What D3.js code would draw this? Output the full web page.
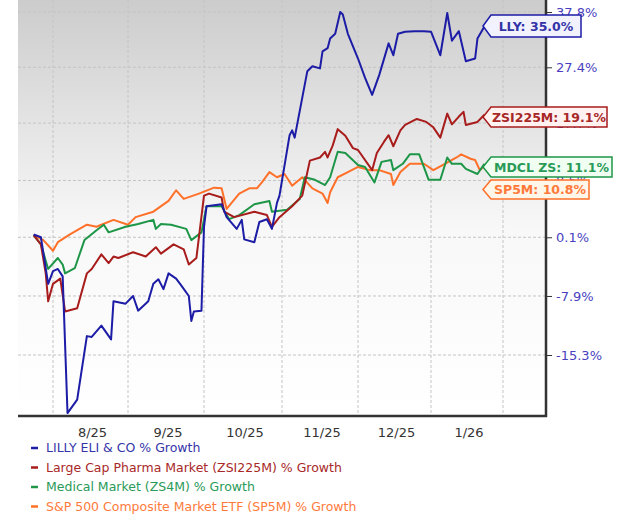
<!DOCTYPE html>
<html><head><meta charset="utf-8">
<script src="https://cdn.jsdelivr.net/npm/d3@7/dist/d3.min.js"></script>
<style>body{margin:0;background:#fff;font-family:Tahoma,"DejaVu Sans",sans-serif;}</style>
</head><body><svg id="c" width="620" height="526"></svg>
<script>
const yTicks = [37.8, 27.4, 17.7, 8.5, 0.1, -7.9, -15.3];
const monthTicks = ["2025-08-01","2025-09-01","2025-10-01","2025-11-01","2025-12-01","2026-01-01","2026-02-01"];
const monthLabels = ["8/25","9/25","10/25","11/25","12/25","1/26"];
const seriesNames = ["LILLY ELI & CO % Growth","Large Cap Pharma Market (ZSI225M) % Growth","Medical Market (ZS4M) % Growth","S&P 500 Composite Market ETF (SP5M) % Growth"];
const endLabels = ["LLY: 35.0%","ZSI225M: 19.1%","MDCL ZS: 11.1%","SP5M: 10.8%"];

const lly = [["2025-07-24",0.5],["2025-07-27",0.1],["2025-07-30",-6.3],["2025-08-01",-4.6],["2025-08-03",-4.3],["2025-08-05",-5.3],["2025-08-07",-22.0],["2025-08-11",-20.5],["2025-08-15",-13.0],["2025-08-17",-13.1],["2025-08-21",-11.7],["2025-08-25",-13.4],["2025-08-26",-8.6],["2025-08-31",-8.9],["2025-09-03",-7.9],["2025-09-05",-9.8],["2025-09-09",-8.6],["2025-09-11",-6.3],["2025-09-13",-5.7],["2025-09-15",-7.0],["2025-09-17",-4.9],["2025-09-20",-5.6],["2025-09-22",-6.5],["2025-09-25",-7.9],["2025-09-26",-11.1],["2025-09-27",-9.9],["2025-09-30",-9.8],["2025-10-01",1.6],["2025-10-02",4.6],["2025-10-08",4.9],["2025-10-10",3.0],["2025-10-14",1.3],["2025-10-16",2.6],["2025-10-17",-0.2],["2025-10-21",-0.6],["2025-10-23",2.3],["2025-10-26",2.7],["2025-10-28",1.3],["2025-10-30",5.1],["2025-10-31",6.2],["2025-11-04",15.7],["2025-11-05",16.5],["2025-11-06",15.3],["2025-11-11",26.7],["2025-11-13",27.6],["2025-11-16",27.2],["2025-11-17",30.3],["2025-11-19",30.9],["2025-11-20",32.7],["2025-11-22",33.6],["2025-11-24",37.8],["2025-11-25",37.3],["2025-11-27",33.6],["2025-12-01",29.0],["2025-12-04",25.5],["2025-12-07",22.5],["2025-12-10",26.0],["2025-12-14",31.8],["2025-12-16",29.6],["2025-12-18",33.6],["2025-12-21",34.0],["2025-12-25",34.1],["2025-12-29",34.1],["2026-01-01",34.0],["2026-01-05",29.6],["2026-01-08",37.6],["2026-01-10",32.3],["2026-01-13",34.1],["2026-01-16",28.5],["2026-01-20",29.0],["2026-01-21",32.7],["2026-01-24",35.0]];
const zsi = [["2025-07-24",0.4],["2025-07-27",-0.9],["2025-07-29",-4.9],["2025-07-30",-8.6],["2025-08-01",-6.3],["2025-08-04",-5.6],["2025-08-06",-9.9],["2025-08-11",-9.5],["2025-08-15",-4.9],["2025-08-17",-4.3],["2025-08-21",-2.3],["2025-08-24",-3.5],["2025-08-26",-2.6],["2025-08-28",-2.8],["2025-09-03",-2.0],["2025-09-08",-2.6],["2025-09-12",-1.3],["2025-09-14",-2.2],["2025-09-19",-0.9],["2025-09-23",-1.6],["2025-09-25",-3.7],["2025-09-28",-2.8],["2025-10-01",6.2],["2025-10-03",6.5],["2025-10-08",5.9],["2025-10-09",3.8],["2025-10-13",3.0],["2025-10-21",3.8],["2025-10-26",3.3],["2025-10-28",1.6],["2025-10-31",3.0],["2025-11-05",4.6],["2025-11-09",6.2],["2025-11-12",11.6],["2025-11-16",12.1],["2025-11-18",13.0],["2025-11-19",12.1],["2025-11-21",14.0],["2025-11-23",16.7],["2025-11-26",15.6],["2025-11-29",13.6],["2025-12-01",13.3],["2025-12-07",10.1],["2025-12-09",12.8],["2025-12-12",14.6],["2025-12-14",15.7],["2025-12-16",13.9],["2025-12-19",16.5],["2025-12-21",17.4],["2025-12-26",18.4],["2025-12-30",17.9],["2026-01-02",17.0],["2026-01-05",15.3],["2026-01-08",19.3],["2026-01-10",17.5],["2026-01-13",18.8],["2026-01-15",19.6],["2026-01-16",17.4],["2026-01-21",17.9],["2026-01-24",19.1]];
const mdcl = [["2025-07-24",0.4],["2025-07-27",-0.9],["2025-07-30",-4.3],["2025-08-03",-2.8],["2025-08-05",-3.7],["2025-08-06",-4.9],["2025-08-10",-4.2],["2025-08-14",-0.3],["2025-08-19",1.1],["2025-08-22",1.9],["2025-08-24",0.8],["2025-08-31",1.6],["2025-09-05",2.0],["2025-09-11",2.6],["2025-09-12",1.3],["2025-09-14",2.0],["2025-09-18",1.9],["2025-09-24",1.3],["2025-09-26",-0.3],["2025-09-30",0.8],["2025-10-02",4.6],["2025-10-08",4.6],["2025-10-11",2.7],["2025-10-15",3.3],["2025-10-21",4.9],["2025-10-27",5.4],["2025-10-28",3.8],["2025-11-03",4.1],["2025-11-08",5.7],["2025-11-10",9.0],["2025-11-14",8.6],["2025-11-18",7.8],["2025-11-20",9.0],["2025-11-23",13.0],["2025-11-26",12.8],["2025-12-01",10.9],["2025-12-04",10.6],["2025-12-08",8.2],["2025-12-11",11.4],["2025-12-15",11.7],["2025-12-16",10.1],["2025-12-20",11.1],["2025-12-23",12.6],["2025-12-27",12.6],["2025-12-31",8.6],["2026-01-05",8.6],["2026-01-08",12.1],["2026-01-10",11.1],["2026-01-14",11.1],["2026-01-16",10.3],["2026-01-21",9.5],["2026-01-24",11.1]];
const sp5m = [["2025-07-24",0.4],["2025-07-28",-0.3],["2025-08-01",-1.8],["2025-08-03",-0.6],["2025-08-08",0.5],["2025-08-15",1.9],["2025-08-19",1.6],["2025-08-21",1.9],["2025-08-26",2.6],["2025-09-01",1.9],["2025-09-04",3.0],["2025-09-11",3.8],["2025-09-17",5.4],["2025-09-20",7.0],["2025-09-23",5.7],["2025-09-29",6.5],["2025-10-05",7.4],["2025-10-08",7.3],["2025-10-10",4.2],["2025-10-15",6.5],["2025-10-19",7.3],["2025-10-22",7.3],["2025-10-24",8.2],["2025-10-27",9.8],["2025-10-30",9.0],["2025-11-02",9.5],["2025-11-05",7.7],["2025-11-09",9.0],["2025-11-13",7.3],["2025-11-17",6.5],["2025-11-19",5.1],["2025-11-20",6.7],["2025-11-23",9.0],["2025-11-27",9.8],["2025-12-01",10.6],["2025-12-06",10.1],["2025-12-10",10.1],["2025-12-15",9.5],["2025-12-16",7.8],["2025-12-19",9.8],["2025-12-23",11.1],["2025-12-29",11.1],["2026-01-02",10.1],["2026-01-07",11.1],["2026-01-12",12.1],["2026-01-14",12.6],["2026-01-18",11.9],["2026-01-20",11.7],["2026-01-22",10.1],["2026-01-24",10.8]];

const allSeries = [lly, zsi, mdcl, sp5m];
const lineColors = ["#1c1ca6","#a81c1c","#1e9648","#ff7028"];
const textColors = ["#3434a8","#a82828","#2a9a58","#ff7a3a"];
const fills = ["#f2f2ff","#fff2f0","#f0fff2","#fff6ea"];

const svg = d3.select("#c");
const parse = d3.timeParse("%Y-%m-%d");
const x = d3.scaleTime().domain(monthTicks.map(parse)).range([53,128,204,282,358,431,503]);
const y = d3.scaleLog().domain([1 + yTicks[6]/100, 1 + yTicks[0]/100]).range([355, 12]);
const Y = v => y(1 + v/100);
const L = 18, R = 546, B = 416;

const defs = svg.append("defs");
const g = defs.append("linearGradient").attr("id","bg").attr("x1",0).attr("y1",0).attr("x2",0).attr("y2",1);
g.append("stop").attr("offset","0%").attr("stop-color","#cccccc");
g.append("stop").attr("offset","55%").attr("stop-color","#f8f8f8");
g.append("stop").attr("offset","100%").attr("stop-color","#ffffff");
svg.append("rect").attr("x",L).attr("y",0).attr("width",R-L).attr("height",B).attr("fill","url(#bg)");

svg.append("g").selectAll("line").data(monthTicks).join("line")
  .attr("x1",d=>x(parse(d))).attr("x2",d=>x(parse(d))).attr("y1",0).attr("y2",B)
  .attr("stroke","#c4c4c4").attr("stroke-dasharray","3,2");
svg.append("g").selectAll("line").data(yTicks).join("line")
  .attr("x1",L).attr("x2",R).attr("y1",d=>Y(d)).attr("y2",d=>Y(d))
  .attr("stroke","#c4c4c4").attr("stroke-dasharray","3,2");

const ya = svg.append("g").attr("transform",`translate(${R},0)`)
  .call(d3.axisRight(y).tickValues(yTicks.map(v=>1+v/100)).tickSize(6).tickPadding(4)
    .tickFormat((d,i)=>yTicks[i].toFixed(1)+"%"));
ya.select(".domain").remove();
ya.selectAll(".tick line").attr("stroke","#333");
ya.selectAll("text").attr("fill","#4a3fc0").attr("font-size","13px").attr("font-family","Tahoma,'DejaVu Sans',sans-serif");
svg.append("line").attr("x1",R).attr("x2",R).attr("y1",0).attr("y2",B+1).attr("stroke","#333").attr("stroke-width",2.5);
svg.append("line").attr("x1",L).attr("x2",R+1).attr("y1",B).attr("y2",B).attr("stroke","#333").attr("stroke-width",2.5);

const mid = monthLabels.map((m,i)=> new Date((parse(monthTicks[i]).getTime()+parse(monthTicks[i+1]).getTime())/2));
svg.append("g").selectAll("text").data(monthLabels).join("text")
  .attr("x",(d,i)=>x(mid[i])+2).attr("y",437).attr("text-anchor","middle")
  .attr("font-size","13px").attr("fill","#333").text(d=>d);

const line = d3.line().x(d=>x(parse(d[0]))).y(d=>Y(d[1]));
[3,2,1,0].forEach(i=>{
  svg.append("path").datum(allSeries[i]).attr("d",line).attr("fill","none")
    .attr("stroke",lineColors[i]).attr("stroke-width",2).attr("stroke-linejoin","round");
});

const boxes = [{y0:15,h:22,w:98},{y0:107,h:20,w:124},{y0:157,h:20,w:129},{y0:180,h:19,w:106}];
boxes.forEach((b,i)=>{
  const x0 = 483, a = 8, ym = b.y0 + b.h/2;
  const p = `M${x0},${ym} L${x0+a},${b.y0} H${x0+b.w} V${b.y0+b.h} H${x0+a} Z`;
  svg.append("path").attr("d",p).attr("fill",fills[i]).attr("stroke",lineColors[i]).attr("stroke-width",1.5);
  svg.append("text").attr("x",x0+a+(b.w-a)/2).attr("y",ym+4.5).attr("text-anchor","middle")
    .attr("font-size","12.5px").attr("font-weight","bold").attr("fill",textColors[i]).text(endLabels[i]);
});

seriesNames.forEach((n,i)=>{
  const yy = 448 + i*19.5;
  svg.append("line").attr("x1",31).attr("x2",38).attr("y1",yy).attr("y2",yy).attr("stroke",lineColors[i]).attr("stroke-width",2.5);
  svg.append("text").attr("x",46).attr("y",yy+4).attr("font-size","12.5px").attr("fill",textColors[i]).text(n);
});
</script></body></html>
